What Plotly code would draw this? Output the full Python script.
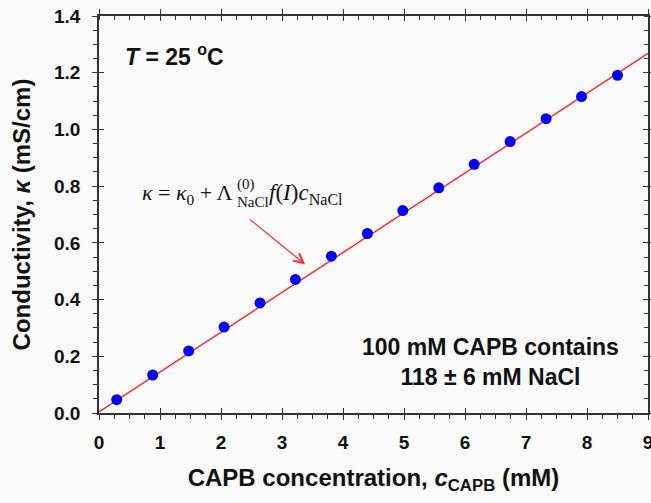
import plotly.graph_objects as go

# Data
c_capb = [0.29, 0.88, 1.47, 2.05, 2.64, 3.22, 3.81, 4.40, 4.98, 5.57, 6.15, 6.74, 7.33, 7.91, 8.50]
kappa = [0.047, 0.134, 0.219, 0.303, 0.388, 0.471, 0.553, 0.633, 0.714, 0.794, 0.877, 0.957, 1.038, 1.116, 1.191]
fit_x = [0.0, 9.0]
fit_y = [0.004, 1.268]

x_ticks = [0, 1, 2, 3, 4, 5, 6, 7, 8, 9]
y_ticks = [0.0, 0.2, 0.4, 0.6, 0.8, 1.0, 1.2, 1.4]

SANS = "Liberation Sans, Arial, sans-serif"
SERIF = "Liberation Serif, Times New Roman, serif"
AX = "#333333"
TXT = "#111111"

fig = go.Figure()
fig.add_trace(go.Scatter(x=fit_x, y=fit_y, mode="lines",
                         line=dict(color="#ff2a2a", width=1.5), showlegend=False))
fig.add_trace(go.Scatter(x=c_capb, y=kappa, mode="markers",
                         marker=dict(color="#0000ff", size=11), showlegend=False))
# invisible traces so the overlay (tick-only) axes are drawn
for xa, ya in (("x2", "y2"), ("x3", "y3")):
    fig.add_trace(go.Scatter(x=[0], y=[0], xaxis=xa, yaxis=ya, mode="markers",
                             marker=dict(opacity=0), showlegend=False, hoverinfo="skip"))

common = dict(showgrid=False, zeroline=False, showline=True, linecolor=AX, linewidth=1.5,
              tickcolor=AX, tickwidth=1.3, automargin=False)
xr, yr = [0, 9], [0, 1.4]
fig.update_layout(
    width=651, height=503,
    margin=dict(l=99, r=3, t=16, b=90),
    paper_bgcolor="#fafafa", plot_bgcolor="#fafafa",
    xaxis=dict(range=xr, tickvals=x_ticks, ticktext=[str(v) for v in x_ticks],
               ticks="outside", ticklen=5, ticklabelstandoff=6, ticklabeloverflow="allow",
               minor=dict(dtick=0.25, ticks="outside", ticklen=4, tickcolor=AX),
               tickfont=dict(family=SANS, size=19, color=TXT, weight="bold"),
               title=dict(text="<b>CAPB concentration, <i>c</i><sub>CAPB</sub> (mM)</b>",
                          font=dict(family=SANS, size=24, color=TXT), standoff=18),
               **common),
    yaxis=dict(range=yr, tickvals=y_ticks, ticktext=[f"{v:.1f}" for v in y_ticks],
               ticks="outside", ticklen=5, ticklabelstandoff=8,
               minor=dict(dtick=0.05, ticks="outside", ticklen=4, tickcolor=AX),
               tickfont=dict(family=SANS, size=19, color=TXT, weight="bold"),
               title=dict(text="<b>Conductivity, <i>κ</i> (mS/cm)</b>",
                          font=dict(family=SANS, size=24, color=TXT), standoff=17),
               **common),
    # inside major ticks on all four sides
    xaxis2=dict(range=xr, overlaying="x", anchor="y2", tickvals=x_ticks, showticklabels=False,
                ticks="inside", ticklen=5, mirror="allticks", **common),
    yaxis2=dict(range=yr, overlaying="y", anchor="x2", tickvals=y_ticks, showticklabels=False,
                ticks="inside", ticklen=5, mirror="allticks", **common),
    # top / right: outside major ticks, inside minor ticks
    xaxis3=dict(range=xr, overlaying="x", anchor="y3", side="top", tickvals=x_ticks,
                showticklabels=False, ticks="outside", ticklen=5,
                minor=dict(dtick=0.25, ticks="inside", ticklen=4, tickcolor=AX), **common),
    yaxis3=dict(range=yr, overlaying="y", anchor="x3", side="right", tickvals=y_ticks,
                showticklabels=False, ticks="outside", ticklen=5,
                minor=dict(dtick=0.05, ticks="inside", ticklen=4, tickcolor=AX), **common),
)

fig.add_annotation(x=0.4, y=1.262, xref="x", yref="y", xanchor="left", yanchor="middle",
                   text="<b><i>T</i> = 25 <sup>o</sup>C</b>", showarrow=False,
                   font=dict(family=SANS, size=23, color=TXT))
fig.add_annotation(x=6.42, y=0.18, xref="x", yref="y", xanchor="center", yanchor="middle",
                   text="<b>100 mM CAPB contains<br>118 ± 6 mM NaCl</b>", showarrow=False,
                   font=dict(family=SANS, size=23, color=TXT))
# formula pieces
fig.add_annotation(x=0.677, y=0.771, xref="x", yref="y", xanchor="left", yanchor="middle",
                   text="<i>κ</i> = <i>κ</i><sub>0</sub> + Λ",
                   showarrow=False, font=dict(family=SERIF, size=22, color=TXT))
fig.add_annotation(x=2.234, y=0.745, xref="x", yref="y", xanchor="left", yanchor="middle",
                   text="NaCl", showarrow=False, font=dict(family=SERIF, size=15, color=TXT))
fig.add_annotation(x=2.234, y=0.805, xref="x", yref="y", xanchor="left", yanchor="middle",
                   text="(0)", showarrow=False, font=dict(family=SERIF, size=15, color=TXT))
fig.add_annotation(x=2.759, y=0.771, xref="x", yref="y", xanchor="left", yanchor="middle",
                   text="<i>f</i>(<i>I</i>)<i>c</i><sub>NaCl</sub>",
                   showarrow=False, font=dict(family=SERIF, size=23, color=TXT))
# arrow
fig.add_annotation(x=3.38, y=0.524, ax=2.45, ay=0.687, xref="x", yref="y", axref="x", ayref="y",
                   text="", showarrow=True, arrowhead=5, arrowsize=1.6, arrowwidth=1.2,
                   arrowcolor="#ff2a2a")

fig.write_html("out.html")
